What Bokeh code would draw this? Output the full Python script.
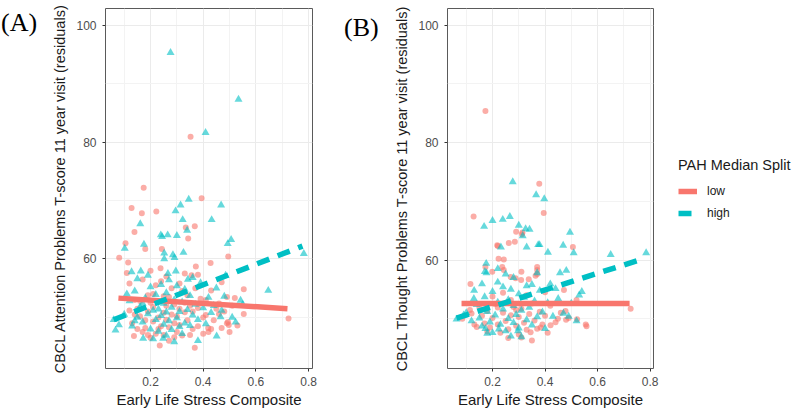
from bokeh.plotting import figure
from bokeh.models import Legend, LegendItem, FixedTicker, Range1d, Div
from bokeh.layouts import row
from bokeh.embed import file_html
from bokeh.resources import INLINE

RED = "#F8766D"
TEAL = "#00BFC4"

# ---------------- Panel A data (Attention Problems) ----------------
A_low_x = [0.352, 0.174, 0.394, 0.128, 0.167, 0.222, 0.334, 0.368, 0.139, 0.343, 0.105, 0.18, 0.243, 0.495,
           0.081, 0.115, 0.372, 0.428, 0.238, 0.20, 0.33, 0.356, 0.554, 0.724, 0.235, 0.368, 0.494, 0.497,
           0.419, 0.137, 0.46, 0.49, 0.554,
           0.12, 0.14, 0.15, 0.16, 0.13, 0.15, 0.17, 0.18, 0.19, 0.20, 0.21, 0.22, 0.23, 0.24, 0.25, 0.26,
           0.27, 0.28, 0.29, 0.30, 0.31, 0.32, 0.33, 0.34, 0.35, 0.36, 0.37, 0.38, 0.40, 0.41, 0.42, 0.43,
           0.45, 0.47, 0.49, 0.50, 0.51, 0.20, 0.27,
           0.14, 0.16, 0.17, 0.18, 0.19, 0.21, 0.22, 0.23, 0.24, 0.25, 0.26, 0.27, 0.28, 0.29, 0.30, 0.31,
           0.32, 0.33, 0.34, 0.35, 0.36, 0.38, 0.39, 0.40, 0.41, 0.44, 0.46, 0.48, 0.52, 0.53, 0.21, 0.19,
           0.25, 0.29, 0.31, 0.26, 0.43, 0.38, 0.47, 0.12, 0.11, 0.23]
A_low_y = [80.9, 72.2, 70.4, 68.7, 67.8, 68.1, 65.4, 65.6, 64.6, 63.5, 62.7, 61.7, 61.7, 60.4,
           60.2, 59.4, 58.7, 59.3, 58.4, 58.0, 57.5, 57.2, 54.8, 49.8, 45.2, 44.8, 49.2, 48.7,
           48.2, 46.8, 50.6, 53.5, 50.6,
           55.8, 53.0, 51.5, 50.2, 49.0, 48.0, 47.5, 49.5, 51.0, 52.5, 54.0, 55.5, 50.0, 48.5, 47.0, 52.0,
           53.5, 50.5, 49.0, 47.5, 51.5, 54.5, 52.5, 49.5, 47.0, 51.0, 55.0, 48.5, 50.0, 53.0, 47.5, 48.0,
           51.5, 56.0, 49.0, 47.5, 52.0, 46.5, 46.0,
           50.5, 52.8, 56.5, 48.2, 53.8, 49.3, 47.2, 52.7, 56.2, 50.8, 49.6, 48.3, 55.0, 52.2, 50.2, 48.7,
           46.9, 50.9, 53.8, 52.0, 48.0, 51.6, 53.2, 47.2, 50.4, 49.5, 52.4, 51.0, 53.3, 48.6, 51.8, 47.0,
           53.6, 46.6, 55.8, 57.0, 54.6, 57.3, 48.2, 51.2, 57.6, 48.0]

A_high_x = [0.276, 0.534, 0.409, 0.345, 0.314, 0.295, 0.468, 0.322, 0.432, 0.161, 0.339, 0.239, 0.244,
            0.265, 0.30, 0.102, 0.175, 0.252, 0.325, 0.291, 0.506, 0.493, 0.782, 0.252, 0.285,
            0.128, 0.163, 0.266, 0.296, 0.342, 0.485, 0.647, 0.067, 0.08, 0.172, 0.248, 0.451, 0.523,
            0.542, 0.466, 0.06,
            0.10, 0.12, 0.13, 0.14, 0.15, 0.16, 0.17, 0.18, 0.19, 0.20, 0.20, 0.21, 0.22, 0.22, 0.23,
            0.23, 0.24, 0.24, 0.25, 0.25, 0.26, 0.26, 0.27, 0.27, 0.28, 0.28, 0.29, 0.30, 0.30, 0.31,
            0.31, 0.32, 0.33, 0.33, 0.34, 0.35, 0.35, 0.36, 0.37, 0.38, 0.39, 0.40, 0.41, 0.42, 0.44,
            0.45, 0.47, 0.48, 0.51, 0.55, 0.15, 0.19, 0.21, 0.29, 0.32, 0.17, 0.14, 0.36, 0.26, 0.11,
            0.43, 0.38]
A_high_y = [95.3, 87.3, 81.6, 70.2, 69.2, 68.2, 69.2, 66.7, 66.7, 66.0, 64.9, 64.1, 63.8,
            64.1, 64.0, 61.8, 62.5, 61.0, 61.1, 60.2, 63.3, 62.6, 60.9, 60.0, 60.7,
            57.8, 57.9, 57.5, 57.9, 56.5, 57.2, 54.6, 47.8, 48.7, 46.4, 46.4, 46.8, 49.2,
            52.9, 50.1, 49.6,
            50.5, 52.8, 48.5, 54.5, 50.0, 51.8, 49.2, 53.3, 50.6, 48.0, 55.2, 51.2, 49.6, 53.9, 47.6,
            51.4, 55.6, 50.3, 48.8, 52.4, 54.2, 50.9, 49.4, 56.4, 51.7, 47.9, 53.0, 49.9, 55.4, 51.0,
            48.4, 52.6, 49.0, 54.8, 51.3, 48.6, 53.7, 50.4, 52.2, 49.6, 55.9, 51.6, 48.9, 53.4, 52.0,
            55.0, 51.2, 53.6, 50.0, 52.2, 56.6, 57.2, 46.3, 45.8, 47.2, 52.4, 49.4, 56.8, 46.9, 54.0,
            50.8, 46.0]

A_low_fit_x = [0.078, 0.72]
A_low_fit_y = [53.3, 51.5]
A_high_fit_x = [0.06, 0.777]
A_high_fit_y = [49.6, 62.2]

# ---------------- Panel B data (Thought Problems) ----------------
B_low_x = [0.173, 0.378, 0.395, 0.128, 0.29, 0.312, 0.22, 0.262, 0.285, 0.506, 0.243, 0.37, 0.173, 0.199,
           0.243, 0.31, 0.37, 0.269, 0.288, 0.309, 0.338, 0.364, 0.116, 0.472, 0.085, 0.114, 0.131, 0.345,
           0.383, 0.421, 0.449, 0.49, 0.522, 0.555, 0.558, 0.478, 0.726, 0.37, 0.223, 0.237, 0.314, 0.218,
           0.15, 0.16, 0.17, 0.18, 0.19, 0.20, 0.21, 0.22, 0.23, 0.24, 0.25, 0.26, 0.27, 0.28, 0.29, 0.30,
           0.30, 0.31, 0.32, 0.33, 0.34, 0.35, 0.36, 0.37, 0.38, 0.39, 0.40, 0.41, 0.42, 0.44, 0.46, 0.48,
           0.20, 0.24, 0.27, 0.33, 0.12, 0.14, 0.26, 0.35, 0.29, 0.22, 0.18, 0.40, 0.52, 0.31]
B_low_y = [85.4, 73.0, 68.0, 67.4, 64.8, 64.4, 62.4, 62.9, 63.1, 62.2, 60.1, 58.8, 58.8, 58.0,
           58.3, 58.0, 58.3, 57.1, 56.9, 56.6, 56.7, 57.3, 55.9, 54.9, 50.0, 51.5, 49.0, 47.7,
           48.5, 48.9, 50.0, 50.1, 49.9, 49.0, 48.7, 51.3, 51.7, 57.6, 60.2, 58.8, 64.7, 62.5,
           52.0, 50.5, 49.2, 51.3, 48.5, 50.1, 52.5, 49.0, 47.6, 51.0, 49.6, 48.2, 50.6, 52.0, 48.8, 47.3,
           50.3, 51.7, 49.3, 48.1, 50.8, 52.6, 49.7, 48.3, 51.2, 49.0, 50.5, 47.6, 52.2, 49.4, 51.0, 49.8,
           53.8, 54.4, 53.2, 54.0, 50.9, 48.6, 46.7, 46.3, 51.5, 51.9, 47.8, 54.5, 53.2, 46.8]

B_high_x = [0.277, 0.366, 0.397, 0.168, 0.20, 0.239, 0.266, 0.30, 0.326, 0.341, 0.315, 0.495, 0.232,
            0.33, 0.374, 0.379, 0.411, 0.469, 0.509, 0.65, 0.785, 0.176, 0.171, 0.22, 0.457, 0.481,
            0.44, 0.54, 0.53, 0.129, 0.063, 0.173, 0.224, 0.297, 0.52, 0.49, 0.37, 0.177,
            0.10, 0.12, 0.14, 0.15, 0.16, 0.17, 0.18, 0.19, 0.20, 0.21, 0.22, 0.23, 0.24, 0.24, 0.25,
            0.26, 0.26, 0.27, 0.28, 0.28, 0.29, 0.30, 0.30, 0.31, 0.32, 0.33, 0.33, 0.34, 0.35, 0.36,
            0.37, 0.38, 0.39, 0.40, 0.41, 0.43, 0.45, 0.47, 0.50, 0.20, 0.27, 0.31, 0.22, 0.35, 0.13,
            0.09, 0.16, 0.28, 0.18, 0.42, 0.25]
B_high_y = [73.3, 71.1, 70.4, 65.7, 66.7, 66.9, 67.4, 65.9, 65.3, 65.2, 64.1, 64.7, 62.2,
            62.2, 62.6, 62.6, 61.3, 62.5, 61.2, 60.9, 61.2, 59.4, 58.0, 58.5, 57.8, 58.2,
            55.1, 54.6, 54.0, 53.4, 49.9, 48.3, 48.2, 47.9, 49.6, 50.4, 57.8, 57.8,
            51.0, 49.6, 52.4, 50.1, 48.7, 53.7, 51.2, 49.4, 54.6, 50.6, 52.8, 49.0, 55.4, 51.6, 47.9,
            53.2, 50.0, 55.0, 49.3, 52.2, 50.7, 54.2, 48.4, 51.4, 53.6, 49.8, 55.6, 51.9, 48.9, 53.0,
            50.3, 54.8, 51.1, 48.3, 52.7, 50.4, 53.4, 50.9, 52.6, 47.6, 47.0, 46.9, 56.2, 55.8, 54.8,
            50.6, 55.9, 57.0, 47.5, 55.9, 57.6]

B_low_fit_x = [0.082, 0.722]
B_low_fit_y = [52.6, 52.6]
B_high_fit_x = [0.063, 0.78]
B_high_fit_y = [50.1, 60.3]

x_ticks = [0.2, 0.4, 0.6, 0.8]
x_minor = [0.1, 0.3, 0.5, 0.7]
y_ticks = [60, 80, 100]
y_minor = [50, 70, 90]
legend_title = "PAH Median Split"
groups = ["low", "high"]

SANS = "Liberation Sans"


def style(p, ylabel):
    p.xaxis.ticker = FixedTicker(ticks=x_ticks, minor_ticks=x_minor)
    p.yaxis.ticker = FixedTicker(ticks=y_ticks, minor_ticks=y_minor)
    p.xaxis.major_label_overrides = {0.2: "0.2", 0.4: "0.4", 0.6: "0.6", 0.8: "0.8"}
    for ax in (p.xaxis[0], p.yaxis[0]):
        ax.axis_line_color = None
        ax.major_tick_line_color = "#333333"
        ax.major_tick_out = 3
        ax.major_tick_in = 0
        ax.minor_tick_line_color = None
        ax.major_label_text_font = SANS
        ax.major_label_text_font_size = "12px"
        ax.major_label_text_color = "#4D4D4D"
        ax.axis_label_text_font = SANS
        ax.axis_label_text_font_style = "normal"
        ax.axis_label_text_color = "#1A1A1A"
    p.yaxis.axis_label = ylabel
    p.yaxis.axis_label_text_font_size = "14.5px"
    p.yaxis.axis_label_standoff = 5
    p.yaxis.major_label_standoff = 5
    p.xaxis.axis_label = "Early Life Stress Composite"
    p.xaxis.axis_label_text_font_size = "15px"
    p.xaxis.axis_label_standoff = 2
    p.xaxis.major_label_standoff = 4
    for g in (p.xgrid[0], p.ygrid[0]):
        g.grid_line_color = "#EBEBEB"
        g.grid_line_width = 1
        g.minor_grid_line_color = "#F3F3F3"
        g.minor_grid_line_width = 1
    p.outline_line_color = "#5A5A5A"
    p.outline_line_width = 1
    p.background_fill_color = "white"
    p.border_fill_color = "white"


def draw(p, lx, ly, hx, hy, lfx, lfy, hfx, hfy):
    p.scatter(lx, ly, marker="circle", size=6, fill_color=RED, fill_alpha=0.6, line_color=None)
    p.scatter(hx, hy, marker="triangle", size=8, fill_color=TEAL, fill_alpha=0.6, line_color=None)
    lr = p.line(lfx, lfy, line_color=RED, line_width=5.5)
    hr = p.line(hfx, hfy, line_color=TEAL, line_width=5.5, line_dash="13 9")
    return lr, hr


def tag(txt, w, top, left):
    return Div(text=('<div style="font-family:\'Liberation Serif\'; font-size:26px; line-height:26px; '
                     'color:black; margin-top:%dpx; margin-left:%dpx;">%s</div>' % (top, left, txt)),
               width=w, height=60, margin=0)


pA = figure(width=290, height=410, output_backend="svg", toolbar_location=None,
            x_range=Range1d(0.029, 0.815), y_range=Range1d(41.26, 102.85),
            min_border_left=60, min_border_right=23, min_border_top=5, min_border_bottom=37)
style(pA, "CBCL Attention Problems T-score 11 year visit (residuals)")
draw(pA, A_low_x, A_low_y, A_high_x, A_high_y, A_low_fit_x, A_low_fit_y, A_high_fit_x, A_high_fit_y)

pB = figure(width=275, height=410, output_backend="svg", toolbar_location=None,
            x_range=Range1d(0.0286, 0.813), y_range=Range1d(41.51, 102.86),
            min_border_left=57, min_border_right=12, min_border_top=8, min_border_bottom=37)
style(pB, "CBCL Thought Problems T-score 11 year visit (residuals)")
draw(pB, B_low_x, B_low_y, B_high_x, B_high_y, B_low_fit_x, B_low_fit_y, B_high_fit_x, B_high_fit_y)

# legend panel: its own small figure whose ranges keep the key lines out of view
pL = figure(width=135, height=410, output_backend="svg", toolbar_location=None,
            x_axis_type=None, y_axis_type=None, x_range=Range1d(10, 11), y_range=Range1d(10, 11),
            min_border=0)
pL.outline_line_color = None
pL.background_fill_color = "white"
pL.border_fill_color = "white"
lrL = pL.line(B_low_fit_x, B_low_fit_y, line_color=RED, line_width=5.5)
hrL = pL.line(B_high_fit_x, B_high_fit_y, line_color=TEAL, line_width=5.5, line_dash="13 9")
legend = Legend(items=[LegendItem(label=groups[0], renderers=[lrL]), LegendItem(label=groups[1], renderers=[hrL])],
                title=legend_title, location=(13, 145),
                title_text_font=SANS, title_text_font_size="14.5px", title_text_font_style="normal",
                title_text_color="#1A1A1A", title_standoff=8,
                label_text_font=SANS, label_text_font_size="12px", label_text_color="#1A1A1A",
                glyph_width=19, glyph_height=20, label_height=20, label_standoff=10, spacing=2,
                padding=0, margin=0, border_line_color=None, background_fill_alpha=0)
pL.add_layout(legend, "center")

layout = row(tag("(A)", 45, 10, 1), pA, tag("(B)", 55, 15, 9), pB, pL)
open("out.html", "w").write(file_html(layout, INLINE))
